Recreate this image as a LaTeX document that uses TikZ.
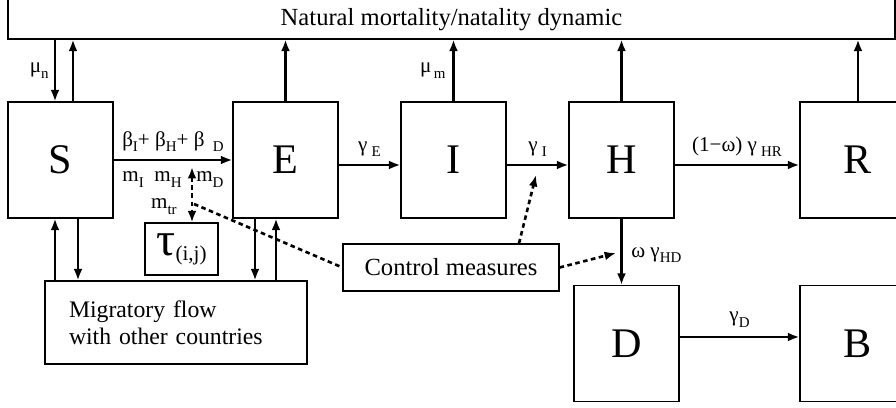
\documentclass[tikz,border=0pt]{standalone}
\usepackage{fontspec}
\setmainfont{Liberation Serif}
\usetikzlibrary{arrows.meta}
\newcommand{\lsub}[1]{\raisebox{-0.6ex}{\fontsize{8.5}{9}\selectfont #1}}

\begin{document}
\begin{tikzpicture}[x=0.02cm, y=-0.02cm, >={Latex[length=6.5pt,width=5pt]},
    box/.style={draw, line width=0.7pt, inner sep=0pt},
    comp/.style={box, minimum width=2.1cm, minimum height=2.32cm, font=\fontsize{24}{28}\selectfont},
    flow/.style={->, line width=1.2pt},
    dotline/.style={line width=1.5pt, dash pattern=on 2.6pt off 2pt},
    lab/.style={font=\fontsize{12}{14}\selectfont, inner sep=1pt}]
    \useasboundingbox (0,0) rectangle (896,408);

    % Các ngăn của mô hình
    \node[box, minimum width=17.74cm, minimum height=0.79cm, font=\fontsize{14}{16}\selectfont] (nat) at (451.5,19.25) {Natural mortality/natality dynamic};
    \node[comp] (S) at (60.5,160) {S};
    \node[comp] (E) at (285.5,160) {E};
    \node[comp] (I) at (453.5,160) {I};
    \node[comp] (H) at (621.5,160) {H};
    \node[comp, minimum width=2.32cm] (R) at (858,160) {R};
    \node[comp] (D) at (626.5,343.5) {D};
    \node[comp, minimum width=2.32cm] (B) at (858,343.5) {B};
    \node[box, minimum width=1.46cm, minimum height=1.04cm] (tau) at (181.5,249) {\fontsize{27}{28}\selectfont τ\raisebox{-3pt}{\fontsize{12}{14}\selectfont (i,j)}};
    \node[box, minimum width=5.24cm, minimum height=1.66cm, inner xsep=0.48cm, text width=4.28cm, align=left, font=\fontsize{13.5}{15.5}\selectfont] (mig) at (176,322.5) {Migratory flow\\with other countries};
    \node[box, minimum width=4.32cm, minimum height=0.94cm, font=\fontsize{14}{16}\selectfont] (cm) at (451,267.5) {Control measures};

    % Các dòng chuyển giữa các ngăn
    \draw[flow] (S.east) -- node[lab, above=3pt] {β\lsub{I}+ β\lsub{H}+ β\hspace{0.4em}\lsub{D}}
        node[lab, below=5pt] {m\lsub{I}\hspace{0.5em}m\lsub{H}\hspace{0.7em}m\lsub{D}} (E.west);
    \draw[flow] ([yshift=-0.1cm]E.east) -- node[lab, above=3pt] {γ\hspace{0.2em}\lsub{E}} ([yshift=-0.1cm]I.west);
    \draw[flow] ([yshift=-0.1cm]I.east) -- node[lab, above=3pt] {γ\hspace{0.2em}\lsub{I}} ([yshift=-0.1cm]H.west);
    \draw[flow] ([yshift=-0.1cm]H.east) -- node[lab, above=3pt] {(1−ω) γ\hspace{0.2em}\lsub{HR}} ([yshift=-0.1cm]R.west);
    \draw[flow] (H.south) -- node[lab, right=4pt, pos=0.55] {ω γ\lsub{HD}} (H.south |- D.north);
    \draw[flow] ([yshift=0.13cm]D.east) -- node[lab, above=4pt] {γ\lsub{D}} ([yshift=0.13cm]B.west);

    % Tử vong / sinh tự nhiên
    \draw[flow] ([xshift=-0.11cm]S.north |- nat.south) -- node[lab, left=2pt] {μ\lsub{n}} ([xshift=-0.11cm]S.north);
    \draw[flow] ([xshift=0.25cm]S.north) -- ([xshift=0.25cm]S.north |- nat.south);
    \draw[flow] (I.north) -- node[lab, left=3pt] {μ\lsub{\,m}} (I.north |- nat.south);
    \foreach \c in {E,H,R}
        \draw[flow] (\c.north) -- (\c.north |- nat.south);

    % Di cư
    \draw[flow] ([xshift=-0.11cm]S.south |- mig.north) -- ([xshift=-0.11cm]S.south);
    \draw[flow] ([xshift=0.35cm]S.south) -- ([xshift=0.35cm]S.south |- mig.north);
    \draw[flow] ([xshift=-0.61cm]E.south) -- ([xshift=-0.61cm]E.south |- mig.north);
    \draw[flow] ([xshift=-0.19cm]E.south |- mig.north) -- ([xshift=-0.19cm]E.south);

    % Biện pháp kiểm soát
    \coordinate (mtip) at (192,167);
    \coordinate (mjoin) at (194,204);
    \coordinate (gtip) at (536,175);
    \coordinate (wtip) at (616,253);
    \draw[dotline, <->] (mtip) -- node[lab, left=7pt, pos=0.72] {m\lsub{tr}} (mtip |- tau.north);
    \draw[dotline] (mjoin) -- (cm.west);
    \draw[dotline, ->] ([xshift=1.36cm]cm.north) -- (gtip);
    \draw[dotline, ->] (cm.east) -- (wtip);
\end{tikzpicture}
\end{document}
